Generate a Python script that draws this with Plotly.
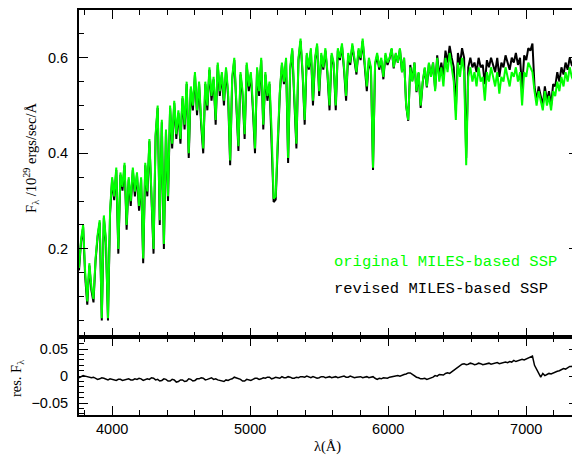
import numpy as np
import plotly.graph_objs as go
from plotly.subplots import make_subplots

# wavelength sampling of the spectra (Angstrom)
lam_start = 3760
lam_step = 15

# original MILES-based SSP (green), flux in 1e29 ergs/sec/A
original = [
    0.16, 0.22, 0.25, 0.15, 0.09, 0.17, 0.12, 0.095, 0.18, 0.23,
    0.26, 0.055, 0.27, 0.22, 0.055, 0.28, 0.35, 0.31, 0.37, 0.20,
    0.36, 0.33, 0.38, 0.25, 0.35, 0.30, 0.37, 0.32, 0.36, 0.29,
    0.35, 0.18, 0.38, 0.32, 0.43, 0.30, 0.20, 0.44, 0.50, 0.26,
    0.47, 0.21, 0.45, 0.31, 0.50, 0.42, 0.51, 0.44, 0.49, 0.43,
    0.52, 0.46, 0.55, 0.40, 0.54, 0.50, 0.57, 0.49, 0.55, 0.47,
    0.41, 0.55, 0.50, 0.58, 0.52, 0.56, 0.47, 0.59, 0.53, 0.57,
    0.51, 0.58, 0.53, 0.385, 0.56, 0.60, 0.50, 0.415, 0.57, 0.53,
    0.44, 0.59, 0.54, 0.57, 0.50, 0.41, 0.58, 0.53, 0.60, 0.46,
    0.57, 0.52, 0.55, 0.45, 0.305, 0.31, 0.43, 0.53, 0.59, 0.55,
    0.60, 0.39, 0.58, 0.62, 0.52, 0.42, 0.60, 0.64, 0.57, 0.47,
    0.61, 0.58, 0.62, 0.51, 0.60, 0.63, 0.53, 0.61, 0.58, 0.62,
    0.57, 0.50, 0.61, 0.59, 0.50, 0.62, 0.60, 0.63, 0.58, 0.52,
    0.61, 0.59, 0.63, 0.60, 0.57, 0.62, 0.60, 0.64, 0.59, 0.54,
    0.60, 0.58, 0.37, 0.59, 0.61, 0.58, 0.60, 0.56, 0.61, 0.59,
    0.60, 0.62, 0.58, 0.61, 0.59, 0.62, 0.57, 0.60, 0.50, 0.47,
    0.58, 0.55, 0.59, 0.53, 0.57, 0.50, 0.55, 0.58, 0.54, 0.59,
    0.56, 0.59, 0.53, 0.60, 0.55, 0.58, 0.54, 0.60, 0.57, 0.61,
    0.58, 0.55, 0.47, 0.59, 0.56, 0.60, 0.57, 0.375, 0.56, 0.58,
    0.55, 0.57, 0.54, 0.58, 0.55, 0.56, 0.51, 0.57, 0.55, 0.58,
    0.56, 0.54, 0.57, 0.525, 0.56, 0.55, 0.58, 0.56, 0.54, 0.57,
    0.56, 0.58, 0.55, 0.57, 0.50, 0.57, 0.56, 0.59, 0.58, 0.57,
    0.53, 0.50, 0.53, 0.51, 0.49, 0.53, 0.50, 0.52, 0.49, 0.53,
    0.52, 0.55, 0.53, 0.56, 0.54, 0.57, 0.55, 0.58, 0.56, 0.55,
    0.58, 0.57,
]

# revised MILES-based SSP (black)
revised = [
    0.155, 0.215, 0.245, 0.14, 0.083, 0.165, 0.113, 0.088, 0.175, 0.225,
    0.255, 0.05, 0.265, 0.213, 0.05, 0.273, 0.345, 0.302, 0.365, 0.19,
    0.355, 0.322, 0.375, 0.24, 0.345, 0.29, 0.365, 0.31, 0.355, 0.28,
    0.345, 0.17, 0.375, 0.31, 0.425, 0.29, 0.19, 0.435, 0.495, 0.25,
    0.465, 0.2, 0.445, 0.3, 0.495, 0.41, 0.505, 0.43, 0.485, 0.42,
    0.515, 0.45, 0.545, 0.39, 0.535, 0.49, 0.565, 0.48, 0.545, 0.46,
    0.40, 0.545, 0.49, 0.575, 0.51, 0.555, 0.46, 0.585, 0.52, 0.565,
    0.50, 0.575, 0.52, 0.375, 0.555, 0.595, 0.49, 0.405, 0.565, 0.52,
    0.43, 0.585, 0.53, 0.565, 0.49, 0.40, 0.575, 0.52, 0.595, 0.45,
    0.565, 0.51, 0.545, 0.44, 0.298, 0.303, 0.42, 0.525, 0.585, 0.545,
    0.595, 0.38, 0.575, 0.615, 0.51, 0.41, 0.595, 0.635, 0.565, 0.46,
    0.605, 0.575, 0.615, 0.50, 0.595, 0.625, 0.52, 0.605, 0.575, 0.615,
    0.565, 0.49, 0.605, 0.585, 0.49, 0.615, 0.595, 0.625, 0.575, 0.51,
    0.605, 0.585, 0.625, 0.595, 0.565, 0.615, 0.595, 0.635, 0.585, 0.53,
    0.595, 0.575, 0.365, 0.585, 0.605, 0.575, 0.595, 0.555, 0.605, 0.585,
    0.598, 0.618, 0.578, 0.608, 0.59, 0.618, 0.57, 0.6, 0.5, 0.468,
    0.585, 0.552, 0.59, 0.528, 0.568, 0.495, 0.548, 0.578, 0.538, 0.588,
    0.56, 0.59, 0.535, 0.605, 0.56, 0.59, 0.56, 0.615, 0.59, 0.625,
    0.60, 0.58, 0.49, 0.61, 0.585, 0.62, 0.60, 0.39, 0.58, 0.60,
    0.58, 0.59, 0.57, 0.60, 0.58, 0.585, 0.545, 0.595, 0.58, 0.60,
    0.585, 0.57, 0.60, 0.56, 0.59, 0.58, 0.605, 0.59, 0.575, 0.60,
    0.59, 0.61, 0.585, 0.60, 0.535, 0.605, 0.595, 0.62, 0.615, 0.63,
    0.54, 0.51, 0.54, 0.52, 0.50, 0.54, 0.51, 0.53, 0.50, 0.545,
    0.54, 0.57, 0.55, 0.58, 0.565, 0.59, 0.575, 0.60, 0.585, 0.58,
    0.61, 0.60,
]

# residual flux (lower panel), same wavelength sampling
residual = [
    -0.003, -0.001, 0.001, 0.000, -0.001, -0.003, -0.003, -0.002, -0.004, -0.006,
    -0.005, -0.003, -0.004, -0.006, -0.007, -0.005, -0.006, -0.008, -0.008, -0.006,
    -0.006, -0.008, -0.007, -0.005, -0.005, -0.007, -0.007, -0.005, -0.006, -0.004,
    -0.005, -0.008, -0.007, -0.005, -0.006, -0.003, -0.004, -0.007, -0.006, -0.009,
    -0.008, -0.005, -0.006, -0.009, -0.009, -0.006, -0.007, -0.011, -0.010, -0.007,
    -0.007, -0.010, -0.009, -0.005, -0.006, -0.009, -0.008, -0.005, -0.005, -0.003,
    -0.004, -0.007, -0.006, -0.004, -0.003, -0.006, -0.005, -0.007, -0.008, -0.010,
    -0.010, -0.007, -0.008, -0.006, -0.005, -0.002, -0.003, -0.005, -0.006, -0.009,
    -0.009, -0.006, -0.007, -0.008, -0.006, -0.004, -0.004, -0.006, -0.005, -0.003,
    -0.004, -0.002, -0.002, -0.005, -0.004, -0.002, -0.003, -0.004, -0.001, -0.003,
    -0.003, -0.001, -0.002, -0.004, -0.004, -0.002, -0.003, -0.001, -0.001, -0.002,
    0.000, -0.002, -0.003, -0.001, -0.002, -0.004, -0.003, -0.001, -0.001, -0.003,
    -0.002, -0.001, -0.003, -0.002, -0.001, -0.003, -0.002, 0.000, 0.000, -0.002,
    -0.002, 0.000, -0.001, -0.003, -0.002, -0.001, -0.001, -0.003, -0.002, -0.001,
    -0.003, -0.002, -0.001, -0.004, -0.006, -0.004, -0.005, -0.003, -0.003, -0.004,
    -0.002, -0.001, -0.001, 0.000, 0.001, 0.000, 0.002, 0.003, 0.004, 0.006,
    0.006, 0.003, 0.001, -0.002, -0.003, -0.005, -0.005, -0.004, -0.006, -0.005,
    -0.004, -0.002, 0.001, 0.000, 0.003, 0.002, 0.002, 0.005, 0.006, 0.005,
    0.008, 0.011, 0.013, 0.017, 0.020, 0.022, 0.023, 0.021, 0.022, 0.024,
    0.023, 0.021, 0.022, 0.024, 0.023, 0.021, 0.022, 0.023, 0.024, 0.022,
    0.023, 0.025, 0.025, 0.023, 0.024, 0.026, 0.026, 0.025, 0.027, 0.026,
    0.029, 0.027, 0.028, 0.030, 0.031, 0.030, 0.032, 0.033, 0.035, 0.037,
    0.020, 0.012, 0.006, -0.002, 0.005, 0.001, 0.003, 0.005, 0.004, 0.006,
    0.007, 0.009, 0.010, 0.012, 0.014, 0.013, 0.016, 0.018, 0.018, 0.020,
    0.022, 0.027,
]

lam = lam_start + lam_step * np.arange(len(original))

fig = make_subplots(rows=2, cols=1, shared_xaxes=True, vertical_spacing=0,
                    row_heights=[0.808, 0.192])

fig.add_trace(go.Scatter(x=lam, y=revised, mode='lines',
                         line=dict(color='black', width=2)), row=1, col=1)
fig.add_trace(go.Scatter(x=lam, y=original, mode='lines',
                         line=dict(color='#00ff00', width=2)), row=1, col=1)
fig.add_trace(go.Scatter(x=lam, y=residual, mode='lines',
                         line=dict(color='black', width=1.5)), row=2, col=1)

tickfont = dict(family='Liberation Sans', size=14.5, color='black')
axis_common = dict(showline=True, linewidth=2, linecolor='black', mirror='allticks',
                   ticks='inside', ticklen=9, tickwidth=1, tickcolor='black',
                   showgrid=False, zeroline=False, tickfont=tickfont)

fig.update_xaxes(range=[3760, 7375], tick0=4000, dtick=1000,
                 minor=dict(dtick=200, ticklen=5, ticks='inside', tickcolor='black'),
                 **axis_common)
fig.update_xaxes(showticklabels=False, row=1, col=1)
fig.update_xaxes(ticklabelstandoff=0, row=2, col=1)

fig.update_yaxes(range=[0.015, 0.7], tick0=0, dtick=0.2, tickformat='.1f',
                 minor=dict(dtick=0.05, ticklen=5, ticks='inside', tickcolor='black'),
                 ticklabelstandoff=6, row=1, col=1, **axis_common)
fig.update_yaxes(range=[-0.072, 0.072], tickvals=[-0.05, 0, 0.05],
                 ticktext=['\u22120.05', '0', '0.05'],
                 minor=dict(dtick=0.01, ticklen=5, ticks='inside', tickcolor='black'),
                 ticklabelstandoff=6, row=2, col=1, **axis_common)

serif = dict(family='Liberation Serif', size=14.5, color='black')
mono = 'Liberation Mono'
fig.add_annotation(text='F<sub>\u03bb</sub> /10<sup>29</sup> ergs/sec/\u00c5',
                   xref='paper', yref='paper', x=-0.096, y=0.635, textangle=-90,
                   showarrow=False, font=serif, xanchor='center', yanchor='middle')
fig.add_annotation(text='res. F<sub>\u03bb</sub>',
                   xref='paper', yref='paper', x=-0.124, y=0.089, textangle=-90,
                   showarrow=False, font=serif, xanchor='center', yanchor='middle')
fig.add_annotation(text='\u03bb(\u00c5)', xref='paper', yref='paper', x=0.497, y=-0.079,
                   showarrow=False, font=serif, xanchor='center', yanchor='middle')
fig.add_annotation(text='original MILES-based SSP', xref='paper', yref='paper',
                   x=0.507, y=0.377, showarrow=False, xanchor='left', yanchor='middle',
                   font=dict(family=mono, size=15.5, color='#00ff00'))
fig.add_annotation(text='revised MILES-based SSP', xref='paper', yref='paper',
                   x=0.507, y=0.310, showarrow=False, xanchor='left', yanchor='middle',
                   font=dict(family=mono, size=15.5, color='black'))

# the page body adds an 8px margin, so the figure is 8px smaller than the window
fig.update_layout(width=572, height=453, showlegend=False,
                  margin=dict(l=71, r=0, t=1, b=46),
                  plot_bgcolor='white', paper_bgcolor='white')

fig.write_html("out.html")
